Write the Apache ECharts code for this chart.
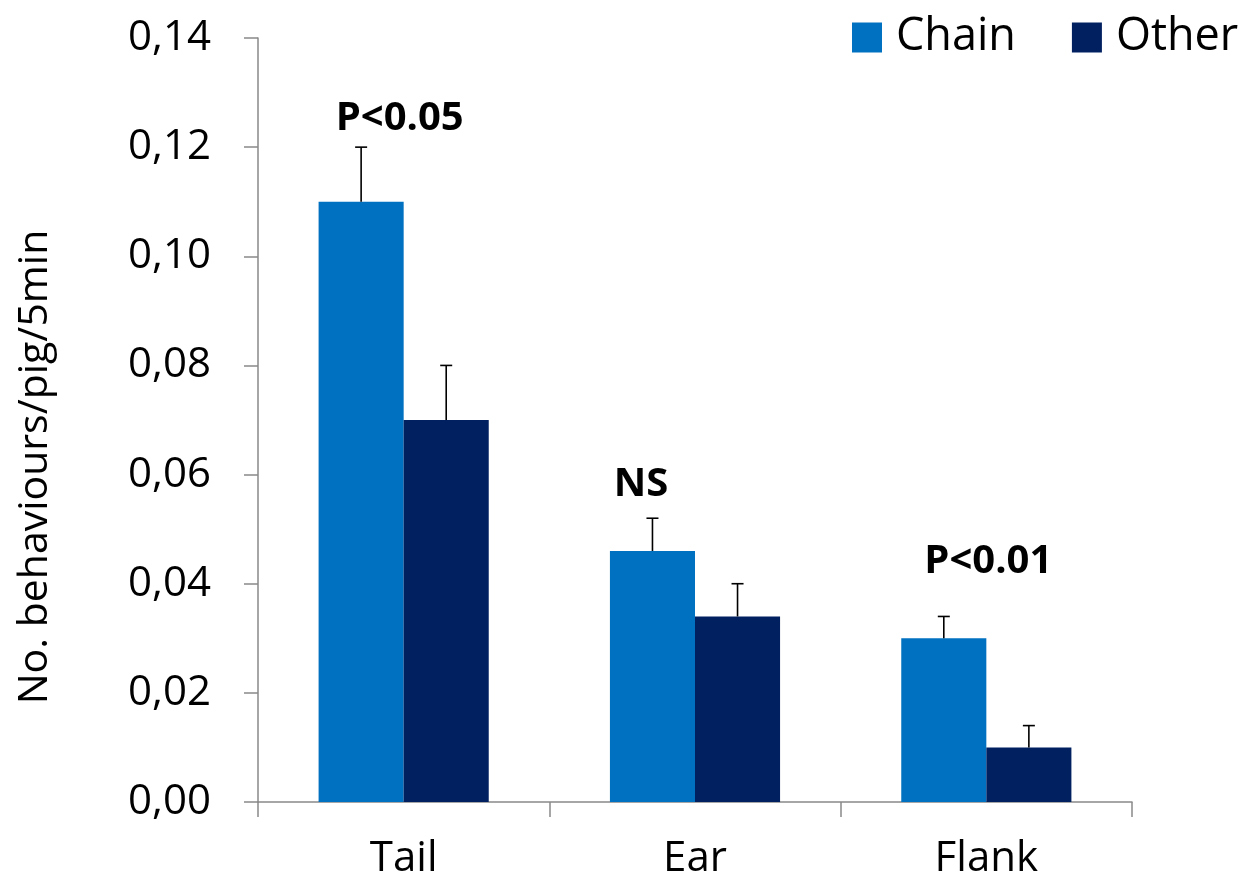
<!DOCTYPE html>
<html>
<head>
<meta charset="utf-8">
<script src="https://cdn.jsdelivr.net/npm/echarts@6/dist/echarts.min.js"></script>
<style>
  html, body { margin: 0; padding: 0; background: #fff; }
  #chart { width: 1249px; height: 882px; }
</style>
</head>
<body>
<div id="chart"></div>
<script>
// Body sites and mean behaviour rates with upper error limits
const categories = ['Tail', 'Ear', 'Flank'];
const chainMean = [0.110, 0.046, 0.030];
const chainUpper = [0.120, 0.052, 0.034];
const otherMean = [0.070, 0.034, 0.010];
const otherUpper = [0.080, 0.040, 0.014];
const seriesNames = ['Chain', 'Other'];
const yTicks = { min: 0, max: 0.14, interval: 0.02 };

// Significance notes above each group
const noteText = ['P<0.05', 'NS', 'P<0.01'];
const noteLevel = [0.1253, 0.0581, 0.044];

const FONT = '"Open Sans", "Liberation Sans", sans-serif';
const CHAIN_COLOR = '#0070C0';
const OTHER_COLOR = '#002060';
const AXIS_COLOR = '#898989';
const CATEGORY_GAP = 0.416;

const chart = echarts.init(document.getElementById('chart'));

// Whisker from bar top up to the upper limit, with a short cap
function errorRenderer(side) {
  return function (params, api) {
    const idx = api.value(0);
    const top = api.coord([idx, api.value(2)]);
    const base = api.coord([idx, api.value(1)]);
    const band = api.size([1, 0])[0];
    const barW = band * (1 - CATEGORY_GAP) / 2;
    const x = top[0] + side * barW / 2;
    const cap = 6;
    const style = { stroke: '#000', lineWidth: 1.6 };
    return {
      type: 'group',
      children: [
        { type: 'line', shape: { x1: x, y1: base[1], x2: x, y2: top[1] }, style: style },
        { type: 'line', shape: { x1: x - cap, y1: top[1], x2: x + cap, y2: top[1] }, style: style }
      ]
    };
  };
}

// Horizontal nudge of each note relative to its group centre
const noteShift = [-4, -54, 2];

function noteRenderer(params, api) {
  const i = params.dataIndex;
  const p = api.coord([api.value(0), api.value(1)]);
  return {
    type: 'text',
    x: p[0] + noteShift[i],
    y: p[1],
    style: {
      text: noteText[i],
      fontFamily: FONT,
      fontSize: 40,
      fontWeight: 'bold',
      fill: '#000000',
      align: 'center',
      verticalAlign: 'middle'
    }
  };
}

const option = {
  animation: false,
  backgroundColor: '#ffffff',
  grid: { left: 258, right: 117, top: 38, bottom: 80, containLabel: false },
  legend: {
    data: seriesNames,
    left: 847,
    top: 10,
    icon: 'rect',
    itemWidth: 30,
    itemHeight: 30,
    itemGap: 56,
    textStyle: { fontFamily: FONT, fontSize: 45, color: '#000', padding: [0, 0, 0, 9] }
  },
  xAxis: {
    type: 'category',
    data: categories,
    boundaryGap: true,
    axisLine: { lineStyle: { color: AXIS_COLOR, width: 1.5 } },
    axisTick: { show: true, length: 15, alignWithLabel: false, lineStyle: { color: AXIS_COLOR, width: 1.5 } },
    axisLabel: { fontFamily: FONT, fontSize: 42, color: '#000', margin: 36 }
  },
  yAxis: {
    type: 'value',
    min: yTicks.min,
    max: yTicks.max,
    interval: yTicks.interval,
    splitLine: { show: false },
    axisLine: { show: true, lineStyle: { color: AXIS_COLOR, width: 1.5 } },
    axisTick: { show: true, length: 14, lineStyle: { color: AXIS_COLOR, width: 1.5 } },
    axisLabel: {
      fontFamily: FONT, fontSize: 42, color: '#000', margin: 47,
      formatter: v => v.toFixed(2).replace('.', ',')
    }
  },
  graphic: [{
    type: 'text',
    x: 35,
    y: 467,
    rotation: Math.PI / 2,
    style: {
      text: 'No. behaviours/pig/5min',
      fontFamily: FONT,
      fontSize: 41,
      fill: '#000',
      textAlign: 'center',
      textVerticalAlign: 'middle'
    }
  }],
  series: [
    {
      name: seriesNames[0],
      type: 'bar',
      data: chainMean,
      itemStyle: { color: CHAIN_COLOR },
      barGap: '0%',
      barCategoryGap: (CATEGORY_GAP * 100) + '%'
    },
    {
      name: seriesNames[1],
      type: 'bar',
      data: otherMean,
      itemStyle: { color: OTHER_COLOR },
      barGap: '0%',
      barCategoryGap: (CATEGORY_GAP * 100) + '%'
    },
    {
      type: 'custom',
      renderItem: errorRenderer(-1),
      data: categories.map((c, i) => [i, chainMean[i], chainUpper[i]]),
      encode: { x: 0, y: 2 },
      z: 5,
      silent: true
    },
    {
      type: 'custom',
      renderItem: errorRenderer(1),
      data: categories.map((c, i) => [i, otherMean[i], otherUpper[i]]),
      encode: { x: 0, y: 2 },
      z: 5,
      silent: true
    },
    {
      type: 'custom',
      renderItem: noteRenderer,
      data: noteText.map((t, i) => [i, noteLevel[i]]),
      encode: { x: 0, y: 1 },
      z: 6,
      silent: true
    }
  ]
};

chart.setOption(option);
</script>
</body>
</html>
